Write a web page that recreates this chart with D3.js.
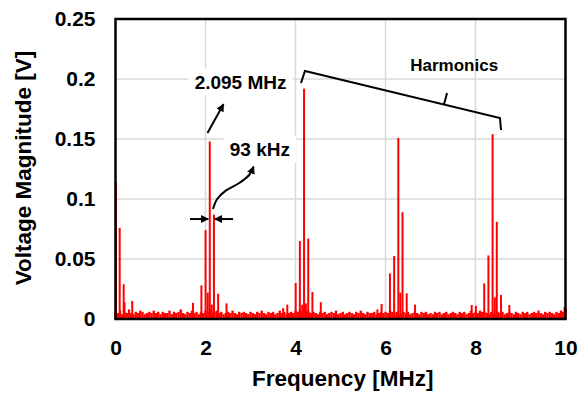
<!DOCTYPE html>
<html>
<head>
<meta charset="utf-8">
<script src="https://cdn.jsdelivr.net/npm/d3@7"></script>
<style>
    body { margin: 0; background: #fff; }
    svg text { font-family: "Liberation Sans", Arial, sans-serif; font-weight: bold; fill: #000; }
</style>
</head>
<body>
<svg id="chart"></svg>
<script>

// spectrum lines (MHz, V) - fundamental at 2.095 MHz, sidebands every 93 kHz
const peakFreq = [0.01, 0.093, 0.182, 0.2, 0.372, 1.723, 1.909, 2.002, 2.05, 2.095, 2.14, 2.188, 2.281, 2.467,
    3.725, 3.818, 4.004, 4.097, 4.15, 4.19, 4.23, 4.283, 4.376, 4.562,
    5.82, 5.913, 6.099, 6.192, 6.285, 6.33, 6.378, 6.471, 6.657,
    7.915, 8.008, 8.194, 8.287, 8.38, 8.43, 8.473, 8.566, 8.752, 9.98];
const peakMag = [0.114, 0.076, 0.029, 0.014, 0.015, 0.0135, 0.028, 0.074, 0.022, 0.148, 0.012, 0.087, 0.021, 0.013,
    0.009, 0.012, 0.030, 0.065, 0.012, 0.192, 0.013, 0.067, 0.0225, 0.014,
    0.008, 0.0125, 0.038, 0.0525, 0.151, 0.022, 0.089, 0.0214, 0.012,
    0.0117, 0.011, 0.0297, 0.053, 0.154, 0.018, 0.081, 0.020, 0.0117, 0.010];

// noise floor in mV, one value every 50 kHz from 0 to 10 MHz
const noiseStep = 0.05;
const noiseMv = [
    6,5,7,4,6,5,8,5,4,6,5,7,6,4,5,6,5,7,5,6,
    4,6,5,5,7,4,6,5,6,8,5,4,6,5,7,5,6,4,6,5,
    7,6,8,5,6,7,5,6,4,5,6,5,7,5,4,6,5,6,5,4,
    6,5,4,6,5,7,5,4,6,5,6,4,5,7,5,6,4,5,6,5,
    7,6,8,6,5,7,6,5,6,5,4,6,5,6,4,5,6,5,7,4,
    5,6,4,5,6,5,4,6,5,7,5,4,6,5,5,6,4,5,6,5,
    6,5,7,6,5,6,4,5,6,5,6,4,5,6,5,4,6,5,6,4,
    5,4,6,5,6,4,5,6,4,5,6,5,4,6,5,6,4,5,7,5,
    6,5,7,6,6,5,4,6,5,4,6,5,6,4,5,6,5,4,6,5,
    4,6,5,6,4,5,6,5,7,5,4,6,5,6,5,4,6,5,7,6,
    9];

const xTicks = [0, 2, 4, 6, 8, 10];
const yTicks = [0, 0.05, 0.1, 0.15, 0.2, 0.25];

const margin = { top: 19, right: 18.5, bottom: 75, left: 115.5 };
const W = 584, H = 394;
const width = W - margin.left - margin.right;
const height = H - margin.top - margin.bottom;

const svg = d3.select("#chart").attr("width", W).attr("height", H);
const g = svg.append("g").attr("transform", `translate(${margin.left},${margin.top})`);

const x = d3.scaleLinear().domain([0, 10]).range([0, width]);
const y = d3.scaleLinear().domain([0, 0.25]).range([height, 0]);

// gridlines
g.append("g").selectAll("line.hgrid")
    .data(yTicks.filter(d => d > 0 && d < 0.25))
    .join("line")
    .attr("x1", 0).attr("x2", width)
    .attr("y1", d => y(d)).attr("y2", d => y(d))
    .attr("stroke", "#d9d9d9").attr("stroke-width", 1.5);

g.append("g").selectAll("line.vgrid")
    .data(xTicks.filter(d => d > 0 && d < 10))
    .join("line")
    .attr("y1", 0).attr("y2", height)
    .attr("x1", d => x(d)).attr("x2", d => x(d))
    .attr("stroke", "#d9d9d9").attr("stroke-width", 1.5);

// white boxes behind the labels, filled in after the text is measured
const boxLayer = g.append("g");

// noise floor
const noise = noiseMv.map((v, i) => ({ f: i * noiseStep, v: v / 1000 }));
g.append("g").selectAll("line")
    .data(noise)
    .join("line")
    .attr("x1", d => x(d.f)).attr("x2", d => x(d.f))
    .attr("y1", y(0)).attr("y2", d => y(d.v))
    .attr("stroke", "#ff0000").attr("stroke-width", 2.4);

// spectral lines
const peaks = peakFreq.map((f, i) => ({ f: f, v: peakMag[i] }));
g.append("g").selectAll("line")
    .data(peaks)
    .join("line")
    .attr("x1", d => x(d.f)).attr("x2", d => x(d.f))
    .attr("y1", y(0)).attr("y2", d => y(d.v))
    .attr("stroke", "#ff0000").attr("stroke-width", 2);

// frame
g.append("rect")
    .attr("width", width).attr("height", height)
    .attr("fill", "none").attr("stroke", "#000").attr("stroke-width", 2.5);

// axes
const xAxis = d3.axisBottom(x).tickValues(xTicks).tickSize(0).tickPadding(21).tickFormat(d3.format("d"));
const yAxis = d3.axisLeft(y).tickValues(yTicks).tickSize(0).tickPadding(20).tickFormat(d => d === 0 ? "0" : String(d));

g.append("g").attr("transform", `translate(0,${height})`).call(xAxis)
    .call(a => a.select(".domain").remove())
    .selectAll("text").style("font-size", "21px");
g.append("g").call(yAxis)
    .call(a => a.select(".domain").remove())
    .selectAll("text").style("font-size", "21px");

svg.append("text")
    .attr("x", margin.left + x(5.05)).attr("y", 386)
    .attr("text-anchor", "middle")
    .style("font-size", "22.5px")
    .text("Frequency [MHz]");

svg.append("text")
    .attr("transform", "translate(31,168) rotate(-90)")
    .attr("text-anchor", "middle")
    .style("font-size", "22.5px")
    .text("Voltage Magnitude [V]");

// annotations
g.append("defs").append("marker")
    .attr("id", "head")
    .attr("viewBox", "0 0 10 10")
    .attr("refX", 9).attr("refY", 5)
    .attr("markerWidth", 4).attr("markerHeight", 4)
    .attr("orient", "auto")
    .append("path").attr("d", "M0,0 L10,5 L0,10 Z").attr("fill", "#000");

const pt = d3.line().x(d => x(d[0])).y(d => y(d[1]));

function label(txt, f, v, size, anchor) {
    return g.append("text")
        .attr("x", x(f)).attr("y", y(v))
        .attr("text-anchor", anchor)
        .style("font-size", size)
        .text(txt);
}

const lbl1 = label("2.095 MHz", 3.8, 0.192, "19px", "end");
const lbl2 = label("93 kHz", 2.54, 0.136, "19px", "start");
label("Harmonics", 6.55, 0.2065, "17px", "start");

[lbl1, lbl2].forEach(t => {
    const b = t.node().getBBox();
    boxLayer.append("rect")
        .attr("x", b.x - 6).attr("y", b.y - 3)
        .attr("width", b.width + 12).attr("height", b.height + 6)
        .attr("fill", "#fff");
});

const arrows = [
    [[2.044, 0.155], [2.4, 0.179]],
    [[1.656, 0.0833], [2.06, 0.0833]],
    [[2.611, 0.0833], [2.207, 0.0833]]
];
g.append("g").selectAll("path")
    .data(arrows)
    .join("path")
    .attr("d", pt)
    .attr("fill", "none").attr("stroke", "#000").attr("stroke-width", 2)
    .attr("marker-end", "url(#head)");

// S-shaped arrow from the sideband spacing up to "93 kHz"
const curve = [[2.167, 0.0917], [2.26, 0.1], [2.45, 0.107], [2.75, 0.1133], [2.97, 0.12], [3.07, 0.127]];
g.append("path")
    .attr("d", d3.line().x(d => x(d[0])).y(d => y(d[1])).curve(d3.curveCatmullRom)(curve))
    .attr("fill", "none").attr("stroke", "#000").attr("stroke-width", 2)
    .attr("marker-end", "url(#head)");

// brace over the harmonics
const brace = [[4.122, 0.1967], [4.211, 0.2067], [8.544, 0.1675], [8.567, 0.1575]];
const braceTip = [[7.3, 0.1788], [7.33, 0.183], [7.367, 0.1883]];
g.append("path").attr("d", pt(brace))
    .attr("fill", "none").attr("stroke", "#000").attr("stroke-width", 2);
g.append("path").attr("d", d3.line().x(d => x(d[0])).y(d => y(d[1])).curve(d3.curveBasis)(braceTip))
    .attr("fill", "none").attr("stroke", "#000").attr("stroke-width", 2);

</script>
</body>
</html>
